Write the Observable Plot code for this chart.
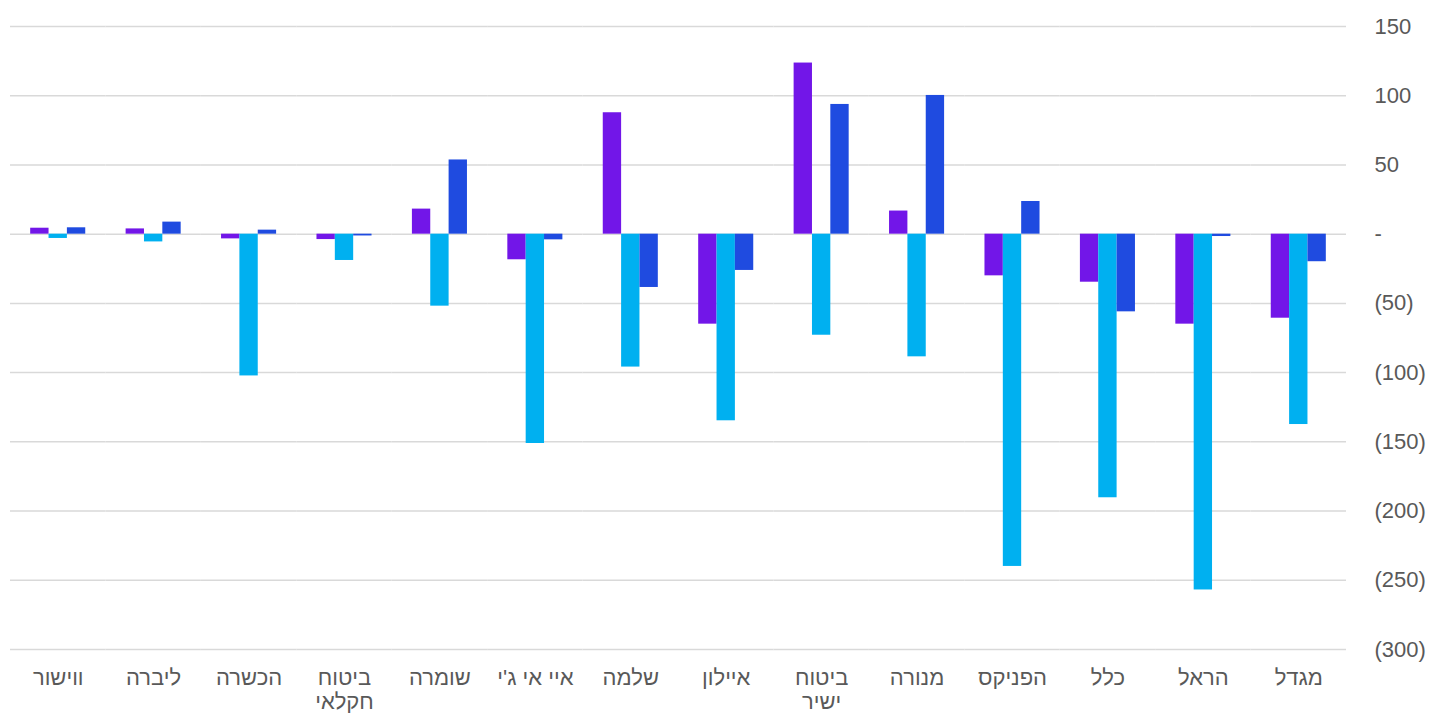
<!DOCTYPE html>
<html><head><meta charset="utf-8">
<script src="https://cdn.jsdelivr.net/npm/d3@7"></script>
<script src="https://cdn.jsdelivr.net/npm/@observablehq/plot@0.6"></script>
<style>body{margin:0;background:#fff}</style>
</head><body><div id="chart"></div>
<script>
// Categories in source order (chart is drawn right-to-left)
const categories = ["מגדל","הראל","כלל","הפניקס","מנורה","ביטוח ישיר","איילון","שלמה","איי אי ג'י","שומרה","ביטוח חקלאי","הכשרה","ליברה","ווישור"];
const seriesNames = ["סדרה 1","סדרה 2","סדרה 3"];
const seriesColors = ["#7216E8","#00B0F0","#1F4BE0"];
const series1Values = [-60.7,-65,-34.7,-30.1,16.7,123.6,-65,87.7,-18.5,18.1,-3.9,-3.4,3.8,4.3];
const series2Values = [-137.5,-257,-190.4,-240,-88.6,-73,-134.8,-96,-151.2,-52,-19,-102.4,-5.6,-3.1];
const series3Values = [-19.9,-1.7,-56.1,23.6,100.2,93.7,-26.2,-38.5,-4.1,53.6,-1.3,2.9,8.7,4.6];
const yTicks = [-300,-250,-200,-150,-100,-50,0,50,100,150];

const data = [];
[series1Values, series2Values, series3Values].forEach((vals, s) =>
  vals.forEach((v, i) => data.push({category: categories[i], series: seriesNames[s], value: v})));

const fmt = v => v === 0 ? "-" : v < 0 ? `(${Math.abs(v)})` : `${v}`;
const wrap = c => c.startsWith("ביטוח ") ? c.replace(" ", "\n") : c;

const chart = Plot.plot({
  width: 1429, height: 715,
  marginTop: 26, marginBottom: 66, marginLeft: 10, marginRight: 83,
  style: {fontFamily: "'Liberation Sans', Arial, sans-serif", fontSize: "22px", color: "#595959", background: "#fff"},
  fx: {domain: categories.slice().reverse(), padding: 0, round: false, label: null},
  x: {domain: seriesNames, paddingInner: 0, paddingOuter: 1.1, round: false, axis: null},
  y: {domain: [-300, 150], label: null},
  color: {domain: seriesNames, range: seriesColors},
  marks: [
    Plot.ruleY(yTicks, {stroke: "#d9d9d9", strokeWidth: 1.5}),
    Plot.barY(data, {fx: "category", x: "series", y: "value", fill: "series"}),
    Plot.axisFx({anchor: "bottom", tickSize: 0, tickPadding: 19, tickFormat: wrap, lineHeight: 1.08, label: null}),
    Plot.axisY(yTicks, {anchor: "right", tickSize: 0, tickPadding: 28, tickFormat: fmt, label: null})
  ]
});
document.getElementById("chart").appendChild(chart);
</script>
</body></html>
